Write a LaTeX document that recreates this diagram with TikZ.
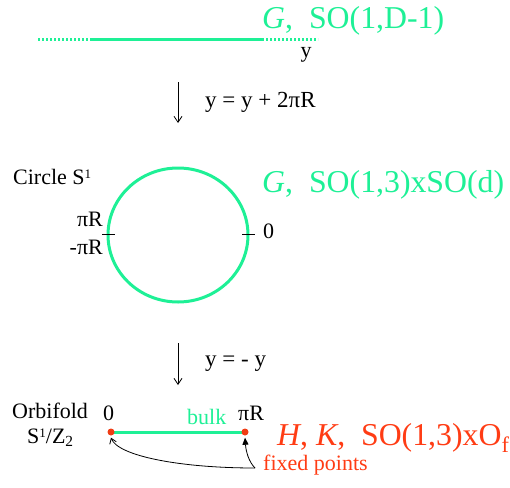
\documentclass[tikz,border=0pt]{standalone}
\usepackage{fontspec}
\setmainfont{Liberation Serif}
\usetikzlibrary{arrows.meta}
\definecolor{brane}{RGB}{30,240,150}
\definecolor{fixred}{RGB}{255,60,20}
\definecolor{dotred}{RGB}{240,60,20}
\newcommand{\smallsup}[1]{\raisebox{6pt}{\fontsize{13}{14}\selectfont #1}}
\begin{document}
\begin{tikzpicture}[x=1pt,y=-1pt,
  lbl/.style={inner sep=0pt, font=\fontsize{22}{26}\selectfont},
  maplbl/.style={inner sep=0pt, font=\fontsize{23}{27}\selectfont},
  big/.style={inner sep=0pt, font=\fontsize{31.8}{36}\selectfont},
  braneline/.style={draw=brane, line width=3pt},
  branedots/.style={draw=brane, line width=3pt, dash pattern=on 2pt off 2pt},
  maparrow/.style={draw=black, line width=0.8pt, -{Straight Barb[length=6pt,width=8pt]}},
  tick/.style={draw=black, line width=1pt},
  fixdot/.style={circle, fill=dotred, inner sep=0pt, minimum size=7pt}]
\useasboundingbox (0,0) rectangle (510,487);

% top line
\coordinate (l0) at (38,40);
\coordinate (l1) at (90,40);
\coordinate (l2) at (262,40);
\coordinate (l3) at (318,40);
\draw[branedots] (l0) -- (l1);
\draw[braneline] (l1) -- (l2);
\draw[branedots] (l2) -- (l3);
\node[lbl, anchor=base] (ylab) at (306,57) {y};
\node[big, text=brane, anchor=base west] (g1) at (262,29) {\textit{G},\ \ SO(1,D-1)};

% first map
\coordinate (a1s) at (178,82);
\coordinate (a1e) at (178,123);
\draw[maparrow] (a1s) -- (a1e);
\node[maplbl, anchor=base west] (map1) at (205,107) {y = y + 2πR};

% circle
\coordinate (cc) at (178,235);
\draw[braneline] (cc) ellipse [x radius=70, y radius=67];
\coordinate (tl0) at (102,234);
\coordinate (tl1) at (115,234);
\coordinate (tr0) at (242,234);
\coordinate (tr1) at (255,234);
\draw[tick] (tl0) -- (tl1);
\draw[tick] (tr0) -- (tr1);
\node[lbl, anchor=base west] (circ) at (13,184) {Circle S\smallsup{1}};
\node[lbl, anchor=base east] (piR) at (103,226) {πR};
\node[lbl, anchor=base east] (mpiR) at (103,254) {-πR};
\node[lbl, anchor=base west] (zero) at (263,238) {0};
\node[big, text=brane, anchor=base west] (g2) at (262,192) {\textit{G},\ \ SO(1,3)xSO(d)};

% second map
\coordinate (a2s) at (178,343);
\coordinate (a2e) at (178,385);
\draw[maparrow] (a2s) -- (a2e);
\node[maplbl, anchor=base west] (map2) at (205,366) {y = - y};

% orbifold
\node[lbl, anchor=base west] (orb) at (12,418) {Orbifold};
\node[lbl, anchor=base west] (s1z2) at (27,443) {S\smallsup{1}/Z\textsubscript{2}};
\node[lbl, anchor=base west] (o0) at (103,420) {0};
\node[lbl, anchor=base west, text=brane] (bulk) at (187,424) {bulk};
\node[lbl, anchor=base west] (opiR) at (238,420) {πR};
\coordinate (p0) at (111,432);
\coordinate (p1) at (245,432);
\draw[braneline] (p0) -- (p1);
\node[fixdot] (d0) at (p0) {};
\node[fixdot] (d1) at (p1) {};
\node[big, text=fixred, anchor=base west] (hk) at (277,445) {\textit{H}, \textit{K},\ \ SO(1,3)xO\textsubscript{f}};
\node[lbl, text=fixred, anchor=base west] (fp) at (263,470) {fixed points};
\coordinate (fps) at (255,468);
\draw[line width=0.8pt, -{Straight Barb[length=5pt,width=7pt]}] (fps) .. controls (180,468) and (118,456) .. ([yshift=-2pt]d0.south);
\draw[line width=0.8pt, -{Triangle[length=7pt,width=6pt]}] (fps) .. controls (249,462) and (246,452) .. ([yshift=-2pt]d1.south);
\end{tikzpicture}
\end{document}
